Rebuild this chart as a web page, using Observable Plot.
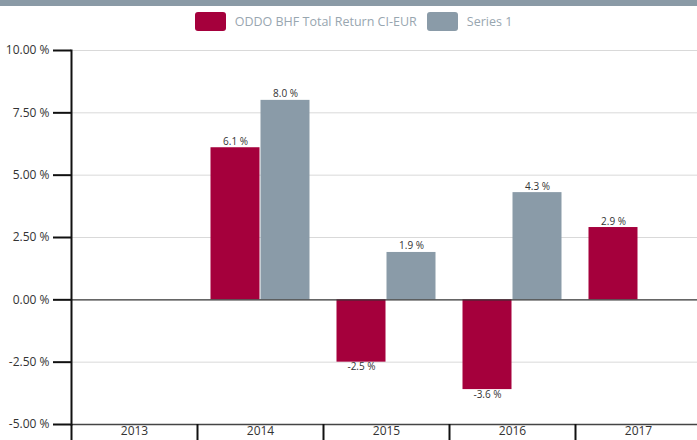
<!DOCTYPE html>
<html>
<head>
<meta charset="utf-8">
<script src="https://cdn.jsdelivr.net/npm/d3@7"></script>
<script src="https://cdn.jsdelivr.net/npm/@observablehq/plot@0.6"></script>
<style>
  html, body { margin: 0; padding: 0; background: #fff; overflow: hidden; }
  body { width: 697px; height: 440px; font-family: "Open Sans", "Noto Sans", sans-serif; }
  #topbar { height: 6px; background: #8a9aa6; }
  #legend { height: 30px; display: flex; justify-content: center; align-items: center; padding-left: 10px; font-size: 12.5px; color: #98a6b0; }
  #legend .item { display: flex; align-items: center; margin: 0 5px; }
  #legend .sw { width: 31px; height: 19px; border-radius: 3px; margin-right: 9px; }
  #chart svg { display: block; }
</style>
</head>
<body>
<div id="topbar"></div>
<div id="legend"></div>
<div id="chart"></div>
<script>
const years = ["2013", "2014", "2015", "2016", "2017"];
const seriesNames = ["ODDO BHF Total Return CI-EUR", "Series 1"];
const seriesColors = ["#a5003c", "#8a9ba8"];
const oddoValues = [null, 6.1, -2.5, -3.6, 2.9];
const series1Values = [null, 8.0, 1.9, 4.3, null];
const yTicks = [-5, -2.5, 0, 2.5, 5, 7.5, 10];

const data = [];
years.forEach((yr, i) => {
  data.push({year: yr, series: seriesNames[0], value: oddoValues[i]});
  data.push({year: yr, series: seriesNames[1], value: series1Values[i]});
});
const present = data.filter(d => d.value != null);

const legend = document.getElementById("legend");
seriesNames.forEach((name, i) => {
  const item = document.createElement("div");
  item.className = "item";
  const sw = document.createElement("div");
  sw.className = "sw";
  sw.style.background = seriesColors[i];
  const t = document.createElement("span");
  t.textContent = name;
  item.appendChild(sw);
  item.appendChild(t);
  legend.appendChild(item);
});

const f1 = d3.format(".1f"), f2 = d3.format(".2f");
const pct1 = v => (v < 0 ? "-" : "") + f1(Math.abs(v)) + " %";
const pct2 = v => (v < 0 ? "-" : "") + f2(Math.abs(v)) + " %";

const chart = Plot.plot({
  width: 697,
  height: 404,
  marginLeft: 71,
  marginRight: -4,
  marginTop: 14,
  marginBottom: 16,
  style: {fontFamily: "'Open Sans', 'Noto Sans', sans-serif", fontSize: "12px", color: "#333", background: "#fff"},
  facet: {data: data, x: "year"},
  fx: {domain: years, paddingInner: 0, paddingOuter: 0, label: null, axis: null},
  x: {domain: seriesNames, paddingInner: 0, paddingOuter: 0.26, axis: null},
  y: {domain: [-5, 10], label: null, axis: null},
  color: {domain: seriesNames, range: seriesColors},
  marks: [
    Plot.gridY(yTicks.filter(d => d !== 0 && d !== -5), {stroke: "#d9d9d9", strokeOpacity: 1, strokeWidth: 1}),
    Plot.ruleY([-5], {stroke: "#444", strokeWidth: 1.5}),
    Plot.barY(data, {x: "series", y: "value", fill: "series", insetRight: 0.5, insetLeft: 0.5}),
    Plot.ruleY([0], {stroke: "#333", strokeWidth: 1.3}),
    Plot.text(present.filter(d => d.value >= 0), {fx: "year", x: "series", y: "value", text: d => pct1(d.value), lineAnchor: "bottom", dy: -3, fontSize: 10, fill: "#333"}),
    Plot.text(present.filter(d => d.value < 0), {fx: "year", x: "series", y: "value", text: d => pct1(d.value), lineAnchor: "top", dy: 1, fontSize: 10, fill: "#333"}),
    Plot.frame({anchor: "left", facetAnchor: "left", stroke: "#111", strokeWidth: 2}),
    Plot.axisY(yTicks, {facetAnchor: "left", tickSize: 18, tickPadding: 4, tickFormat: pct2, stroke: "#111", strokeWidth: 2, fontSize: 12, fill: "#333"}),
    Plot.axisFx({anchor: "bottom", tickSize: 17, dx: -63, tickFormat: () => "", stroke: "#111", strokeWidth: 2, label: null}),
    Plot.axisFx({anchor: "bottom", tickSize: 0, tickPadding: 2, fontSize: 12, fill: "#333", label: null})
  ]
});
document.getElementById("chart").appendChild(chart);
</script>
</body>
</html>
